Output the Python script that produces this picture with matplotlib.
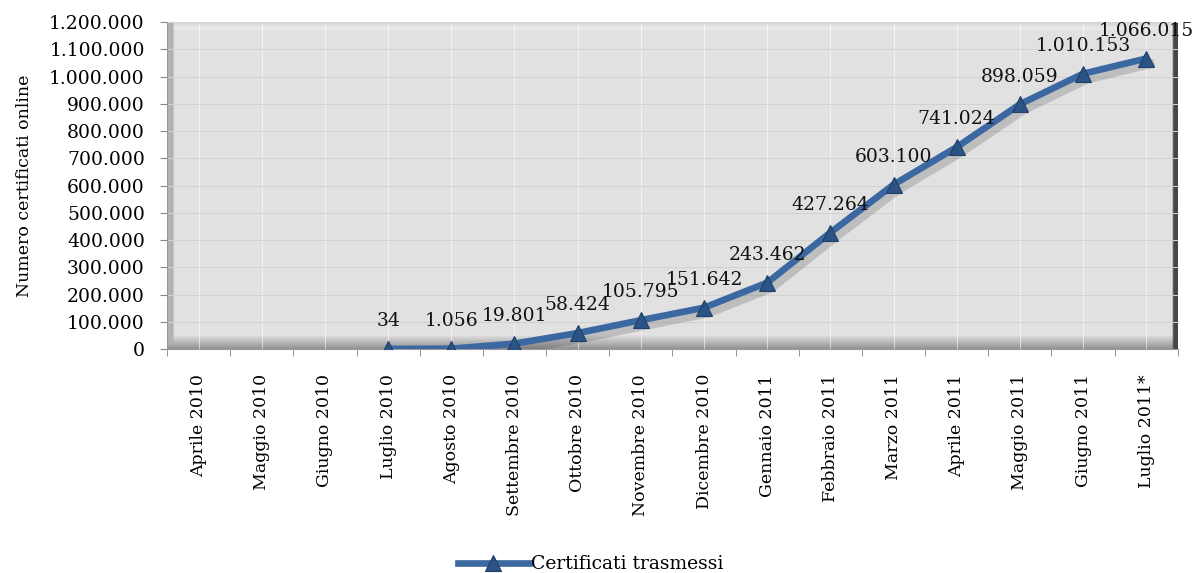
import numpy as np
import matplotlib
matplotlib.use('Agg')
import matplotlib.pyplot as plt
import matplotlib.patheffects as pe
from matplotlib.ticker import FuncFormatter, FixedLocator

# dati
mesi = ['Aprile 2010', 'Maggio 2010', 'Giugno 2010', 'Luglio 2010', 'Agosto 2010',
        'Settembre 2010', 'Ottobre 2010', 'Novembre 2010', 'Dicembre 2010',
        'Gennaio 2011', 'Febbraio 2011', 'Marzo 2011', 'Aprile 2011',
        'Maggio 2011', 'Giugno 2011', 'Luglio 2011*']
certificati = [None, None, None, 34, 1056, 19801, 58424, 105795, 151642,
               243462, 427264, 603100, 741024, 898059, 1010153, 1066015]
serie_label = 'Certificati trasmessi'
y_label = 'Numero certificati online'

LINE = '#3b68a0'
MARK = '#2b5385'

plt.rcParams['font.family'] = ['DejaVu Serif']


def fmt_it(v, pos=None):
    return f"{v:,.0f}".replace(",", ".")


fig = plt.figure(figsize=(11.93, 5.73), dpi=100)
ax = fig.add_axes([0.14, 0.3909, 0.8473, 0.5707])

# pannello grigio con bordo "smussato"
h, w = 300, 600
panel = np.full((h, w), 0.885)
panel[:8, :] = np.linspace(0.82, 0.93, 8)[:, None]
panel[-14:, :] = np.linspace(0.90, 0.58, 14)[:, None]
panel[:, :4] = np.minimum(panel[:, :4], 0.70)
panel[:, -3:] = 0.28
rgb = np.dstack([panel] * 3)
ax.imshow(rgb, extent=[0, 1, 0, 1], transform=ax.transAxes, aspect='auto',
          zorder=0, interpolation='bilinear')

x = np.arange(len(mesi))
idx = [i for i, v in enumerate(certificati) if v is not None]
xv = x[idx]
yv = np.array([certificati[i] for i in idx], dtype=float)

# ombra della linea
ax.plot(xv, yv, color='#555555', lw=6, alpha=0.0, zorder=4,
        path_effects=[pe.SimpleLineShadow(offset=(3, -4), alpha=0.22,
                                          shadow_color='#444444')])
ax.plot(xv, yv, color=LINE, lw=4.8, solid_capstyle='round', zorder=5)
ax.plot(xv, yv, ls='none', marker='^', markersize=12, markerfacecolor=MARK,
        markeredgecolor='#1f3f66', markeredgewidth=0.8, zorder=6)
# voce della legenda
ax.plot([], [], color=LINE, lw=4.8, marker='^', markersize=12, markerfacecolor=MARK,
        markeredgecolor='#1f3f66', markeredgewidth=0.8, label=serie_label)

for xi, yi in zip(xv, yv):
    ax.annotate(fmt_it(yi), (xi, yi), xytext=(0, 20), textcoords='offset points',
                ha='center', va='center', fontsize=13.5, color='#111111', zorder=7)

ax.set_xlim(-0.5, len(mesi) - 0.5)
ax.set_ylim(0, 1200000)
ax.yaxis.set_major_locator(FixedLocator(np.arange(0, 1200001, 100000)))
ax.yaxis.set_major_formatter(FuncFormatter(fmt_it))
ax.set_xticks(x)
ax.set_xticklabels(mesi, rotation=90, fontsize=12.5)
ax.set_xticks(np.arange(-0.5, len(mesi)), minor=True)
ax.tick_params(axis='x', which='major', length=0, pad=18)
ax.tick_params(axis='x', which='minor', length=5, color='#888888', direction='out')
ax.tick_params(axis='y', labelsize=13.5, length=5, color='#888888', pad=11)

ax.grid(axis='y', color='#d2d2d2', lw=0.7, zorder=1)
ax.grid(axis='x', which='major', color='white', lw=0.7, alpha=0.6, zorder=1)
ax.set_axisbelow(True)

for s in ['top', 'right']:
    ax.spines[s].set_visible(False)
ax.spines['left'].set_color('#999999')
ax.spines['bottom'].set_color('#999999')

ax.set_ylabel(y_label, fontsize=12.5, labelpad=12)

fig.legend(loc='lower center', bbox_to_anchor=(0.495, -0.03), frameon=False,
           fontsize=13.5, handlelength=3.8, handletextpad=0.1)

plt.savefig('out.png', dpi=100)
